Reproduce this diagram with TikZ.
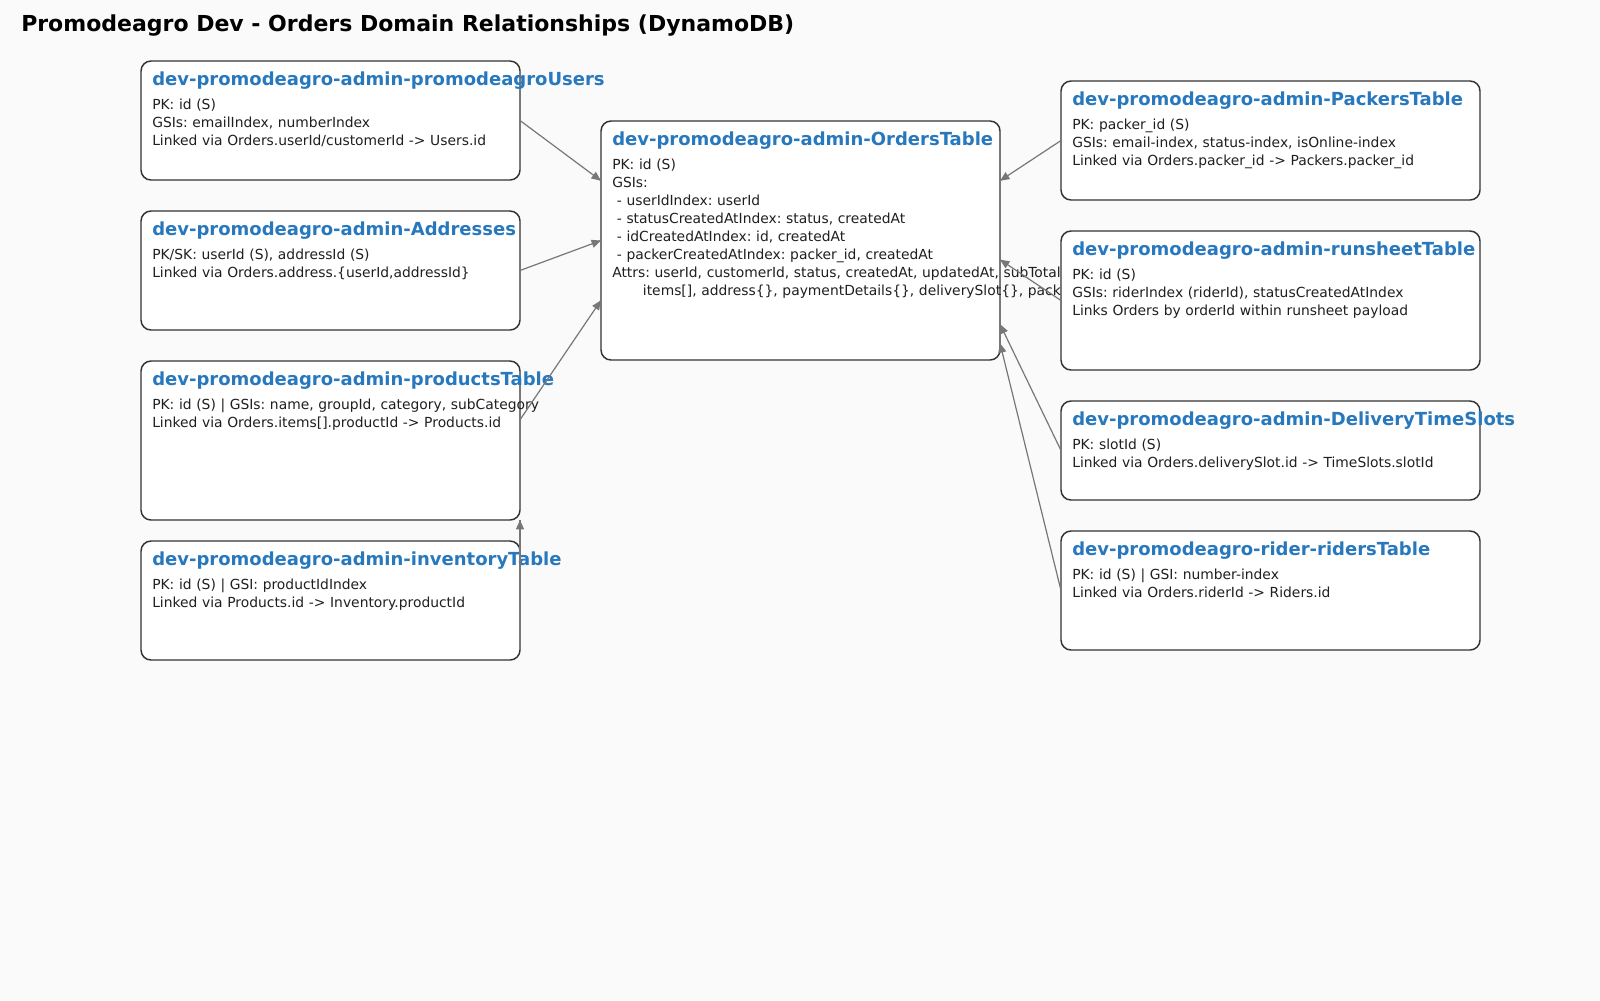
\documentclass[tikz,border=0pt]{standalone}
\usepackage{fontspec}
\setmainfont{DejaVu Sans}
\usepackage{tikz}
\usetikzlibrary{arrows.meta}
\usetikzlibrary{decorations.markings}
\usetikzlibrary{calc}
\usetikzlibrary{positioning}
\definecolor{bggray}{HTML}{FAFAFA}
\definecolor{edgegray}{HTML}{333333}
\definecolor{linkgray}{HTML}{777777}
\definecolor{titleblue}{HTML}{2878BE}
\frenchspacing
\tikzset{tbl/.style = {draw=edgegray, fill=white, line width=1.1pt, rounded corners=7.5pt,
                       inner sep=0, outer sep=0, anchor=north west}}
\tikzset{ttl/.style = {anchor=base west, inner sep=0, text=titleblue,
                       font=\fontsize{13.5}{16}\selectfont\bfseries}}
\tikzset{txt/.style = {anchor=base west, inner sep=0, text=black!88, align=left, text width=300pt,
                       font=\fontsize{10.4}{13.5}\selectfont}}
\tikzset{rel/.style = {color=linkgray, line width=0.9pt,
                       decoration={markings,
                                   mark=at position 1 with {\arrow{Triangle[length=7pt, width=6pt]}}},
                       postaction={decorate}}}

\begin{document}
\begin{tikzpicture}[x=0.75pt, y=-0.75pt]
      \useasboundingbox (0, 0) rectangle (1600, 1000);
      \fill [bggray] (0, 0) rectangle (1600, 1000);
      \node [anchor=base west, inner sep=0, font=\fontsize{16.5}{19}\selectfont\bfseries] (heading) at (21, 31)
            {Promodeagro Dev - Orders Domain Relationships (DynamoDB)};

      % central table
      \node [tbl, minimum width=299.25pt, minimum height=179.25pt] (orders) at (601, 121) {};
      \node [ttl] (orders-t) at ([shift={(11, 24)}]orders.north west) {dev-promodeagro-admin-OrdersTable};
      \node [txt, text width=420pt] (orders-b) at ([shift={(11, 48)}]orders.north west) {PK: id (S)\\GSIs:\\
            \ - userIdIndex: userId\\\ - statusCreatedAtIndex: status, createdAt\\
            \ - idCreatedAtIndex: id, createdAt\\\ - packerCreatedAtIndex: packer\_id, createdAt\\
            Attrs: userId, customerId, status, createdAt, updatedAt, subTotal,\\
            \hspace*{23pt}items[], address\{\}, paymentDetails\{\}, deliverySlot\{\}, packer\_id};

      % right column
      \node [tbl, minimum width=314.25pt, minimum height=89.25pt] (packers) at (1061, 81) {};
      \node [ttl] (packers-t) at ([shift={(11, 24)}]packers.north west) {dev-promodeagro-admin-PackersTable};
      \node [txt] (packers-b) at ([shift={(11, 48)}]packers.north west) {PK: packer\_id (S)\\
            GSIs: email-index, status-index, isOnline-index\\Linked via Orders.packer\_id -> Packers.packer\_id};

      \node [tbl, minimum width=314.25pt, minimum height=104.25pt] (runsheet) at (1061, 231) {};
      \node [ttl] (runsheet-t) at ([shift={(11, 24)}]runsheet.north west) {dev-promodeagro-admin-runsheetTable};
      \node [txt] (runsheet-b) at ([shift={(11, 48)}]runsheet.north west) {PK: id (S)\\
            GSIs: riderIndex (riderId), statusCreatedAtIndex\\Links Orders by orderId within runsheet payload};

      \node [tbl, minimum width=314.25pt, minimum height=74.25pt] (slots) at (1061, 401) {};
      \node [ttl] (slots-t) at ([shift={(11, 24)}]slots.north west) {dev-promodeagro-admin-DeliveryTimeSlots};
      \node [txt] (slots-b) at ([shift={(11, 48)}]slots.north west) {PK: slotId (S)\\
            Linked via Orders.deliverySlot.id -> TimeSlots.slotId};

      \node [tbl, minimum width=314.25pt, minimum height=89.25pt] (riders) at (1061, 531) {};
      \node [ttl] (riders-t) at ([shift={(11, 24)}]riders.north west) {dev-promodeagro-rider-ridersTable};
      \node [txt] (riders-b) at ([shift={(11, 48)}]riders.north west) {PK: id (S) | GSI: number-index\\
            Linked via Orders.riderId -> Riders.id};

      % left column
      \node [tbl, minimum width=284.25pt, minimum height=89.25pt] (users) at (141, 61) {};
      \node [ttl] (users-t) at ([shift={(11, 24)}]users.north west) {dev-promodeagro-admin-promodeagroUsers};
      \node [txt] (users-b) at ([shift={(11, 48)}]users.north west) {PK: id (S)\\
            GSIs: emailIndex, numberIndex\\Linked via Orders.userId/customerId -> Users.id};

      \node [tbl, minimum width=284.25pt, minimum height=89.25pt] (addresses) at (141, 211) {};
      \node [ttl] (addresses-t) at ([shift={(11, 24)}]addresses.north west) {dev-promodeagro-admin-Addresses};
      \node [txt] (addresses-b) at ([shift={(11, 48)}]addresses.north west) {PK/SK: userId (S), addressId (S)\\
            Linked via Orders.address.\{userId,addressId\}};

      \node [tbl, minimum width=284.25pt, minimum height=119.25pt] (products) at (141, 361) {};
      \node [ttl] (products-t) at ([shift={(11, 24)}]products.north west) {dev-promodeagro-admin-productsTable};
      \node [txt] (products-b) at ([shift={(11, 48)}]products.north west) {PK: id (S) | GSIs: name, groupId, category, subCategory\\
            Linked via Orders.items[].productId -> Products.id};

      \node [tbl, minimum width=284.25pt, minimum height=89.25pt] (inventory) at (141, 541) {};
      \node [ttl] (inventory-t) at ([shift={(11, 24)}]inventory.north west) {dev-promodeagro-admin-inventoryTable};
      \node [txt] (inventory-b) at ([shift={(11, 48)}]inventory.north west) {PK: id (S) | GSI: productIdIndex\\
            Linked via Products.id -> Inventory.productId};

      % links into the orders table
      \draw [rel] (users.east) -- ($(orders.north west)!0.25!(orders.south west)$);
      \draw [rel] (addresses.east) -- ($(orders.north west)!0.5!(orders.south west)$);
      \draw [rel] ($(products.north east)!0.37!(products.south east)$) -- ($(orders.north west)!0.75!(orders.south west)$);
      \draw [rel] (inventory.east) -- (products.south east);
      \draw [rel] (packers.west) -- ($(orders.north east)!0.25!(orders.south east)$);
      \draw [rel] (runsheet.west) -- ($(orders.north east)!0.58!(orders.south east)$);
      \draw [rel] (slots.west) -- ($(orders.north east)!0.85!(orders.south east)$);
      \draw [rel] (riders.west) -- ($(orders.north east)!0.93!(orders.south east)$);

    \end{tikzpicture}
\end{document}
